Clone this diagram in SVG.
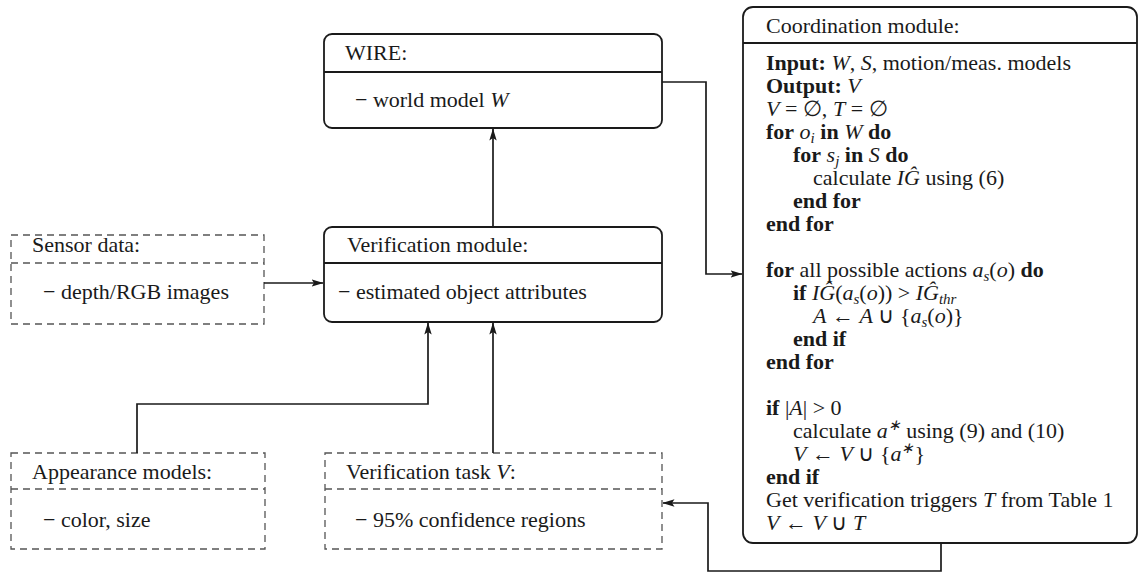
<svg xmlns="http://www.w3.org/2000/svg" width="1140" height="576" viewBox="0 0 1140 576">
<style>
text{font-family:"Liberation Serif","Times New Roman",serif;font-size:22px;fill:#1a1a1a}
.b{font-weight:bold}
.m{font-style:italic}
.solid{fill:#fff;stroke:#1a1a1a;stroke-width:1.8}
.dash{fill:#fff;stroke:#555;stroke-width:1.3;stroke-dasharray:7 5}
.div{stroke:#1a1a1a;stroke-width:1.8}
.ddiv{stroke:#555;stroke-width:1.3;stroke-dasharray:7 5}
.c{fill:none;stroke:#1a1a1a;stroke-width:1.7}
</style>
<defs>
<marker id="ah" viewBox="0 0 12 8" refX="11.5" refY="4" markerWidth="12" markerHeight="8" markerUnits="userSpaceOnUse" orient="auto">
<path d="M0,0.3 L12,4 L0,7.7 L2.5,4 Z" fill="#1a1a1a"/>
</marker>
</defs>
<g id="wire">
<rect class="solid" x="324" y="34" width="338" height="94" rx="8"/>
<line class="div" x1="324" y1="72" x2="662" y2="72"/>
<text x="345" y="60">WIRE:</text>
<text x="355" y="107">− world model <tspan class="m">W</tspan></text>
</g>
<g id="verification">
<rect class="solid" x="324" y="227" width="338" height="95" rx="8"/>
<line class="div" x1="324" y1="263" x2="662" y2="263"/>
<text x="347" y="252">Verification module:</text>
<text x="338" y="299">− estimated object attributes</text>
</g>
<g id="sensor">
<rect class="dash" x="11" y="235" width="253" height="89"/>
<line class="ddiv" x1="11" y1="263" x2="264" y2="263"/>
<text x="32" y="252">Sensor data:</text>
<text x="43" y="299">− depth/RGB images</text>
</g>
<g id="appearance">
<rect class="dash" x="11" y="453" width="254" height="96"/>
<line class="ddiv" x1="11" y1="489" x2="265" y2="489"/>
<text x="32" y="479">Appearance models:</text>
<text x="43" y="527">− color, size</text>
</g>
<g id="task">
<rect class="dash" x="325" y="453" width="337" height="96"/>
<line class="ddiv" x1="325" y1="489" x2="662" y2="489"/>
<text x="346" y="479">Verification task <tspan class="m">V</tspan>:</text>
<text x="355" y="527">− 95% confidence regions</text>
</g>
<g id="coordination">
<rect class="solid" x="743" y="7" width="394" height="536" rx="10"/>
<line class="div" x1="743" y1="43" x2="1137" y2="43"/>
<text x="766" y="33">Coordination module:</text>
<text x="766" y="70"><tspan class="b">Input:</tspan> <tspan class="m">W</tspan>, <tspan class="m">S</tspan>, motion/meas. models</text>
<text x="766" y="93"><tspan class="b">Output:</tspan> <tspan class="m">V</tspan></text>
<text x="766" y="116"><tspan class="m">V</tspan> = ∅, <tspan class="m">T</tspan> = ∅</text>
<text x="766" y="139"><tspan class="b">for</tspan> <tspan class="m">o<tspan dy="4" font-size="15">i</tspan></tspan><tspan dy="-4"> </tspan><tspan class="b">in</tspan> <tspan class="m">W</tspan> <tspan class="b">do</tspan></text>
<text x="793" y="162"><tspan class="b">for</tspan> <tspan class="m">s<tspan dy="4" font-size="15">j</tspan></tspan><tspan dy="-4"> </tspan><tspan class="b">in</tspan> <tspan class="m">S</tspan> <tspan class="b">do</tspan></text>
<text x="813" y="185">calculate <tspan class="m">IĜ</tspan> using (6)</text>
<text x="793" y="208" class="b">end for</text>
<text x="766" y="231" class="b">end for</text>
<text x="766" y="277"><tspan class="b">for</tspan> all possible actions <tspan class="m">a<tspan dy="4" font-size="15">s</tspan></tspan><tspan dy="-4">(</tspan><tspan class="m">o</tspan>) <tspan class="b">do</tspan></text>
<text x="793" y="300"><tspan class="b">if</tspan> <tspan class="m">IĜ</tspan>(<tspan class="m">a<tspan dy="4" font-size="15">s</tspan></tspan><tspan dy="-4">(</tspan><tspan class="m">o</tspan>)) &gt; <tspan class="m">IĜ<tspan dy="4" font-size="15">thr</tspan></tspan></text>
<text x="813" y="323"><tspan class="m">A</tspan> ← <tspan class="m">A</tspan> ∪ {<tspan class="m">a<tspan dy="4" font-size="15">s</tspan></tspan><tspan dy="-4">(</tspan><tspan class="m">o</tspan>)}</text>
<text x="793" y="346" class="b">end if</text>
<text x="766" y="369" class="b">end for</text>
<text x="766" y="415"><tspan class="b">if</tspan> |<tspan class="m">A</tspan>| &gt; 0</text>
<text x="793" y="438">calculate <tspan class="m">a<tspan dy="-8" font-size="15">∗</tspan></tspan><tspan dy="8"> using (9) and (10)</tspan></text>
<text x="793" y="461"><tspan class="m">V</tspan> ← <tspan class="m">V</tspan> ∪ {<tspan class="m">a<tspan dy="-8" font-size="15">∗</tspan></tspan><tspan dy="8">}</tspan></text>
<text x="766" y="484" class="b">end if</text>
<text x="766" y="507">Get verification triggers <tspan class="m">T</tspan> from Table 1</text>
<text x="766" y="530"><tspan class="m">V</tspan> ← <tspan class="m">V</tspan> ∪ <tspan class="m">T</tspan></text>
</g>
<g id="connectors">
<polyline class="c" points="662,82 706,82 706,274 742,274" marker-end="url(#ah)"/>
<polyline class="c" points="493,227 493,129" marker-end="url(#ah)"/>
<polyline class="c" points="264,283 323,283" marker-end="url(#ah)"/>
<polyline class="c" points="137,453 137,404 428,404 428,323" marker-end="url(#ah)"/>
<polyline class="c" points="493,453 493,323" marker-end="url(#ah)"/>
<polyline class="c" points="941,543 941,571 708,571 708,503 663,503" marker-end="url(#ah)"/>
</g>
</svg>
